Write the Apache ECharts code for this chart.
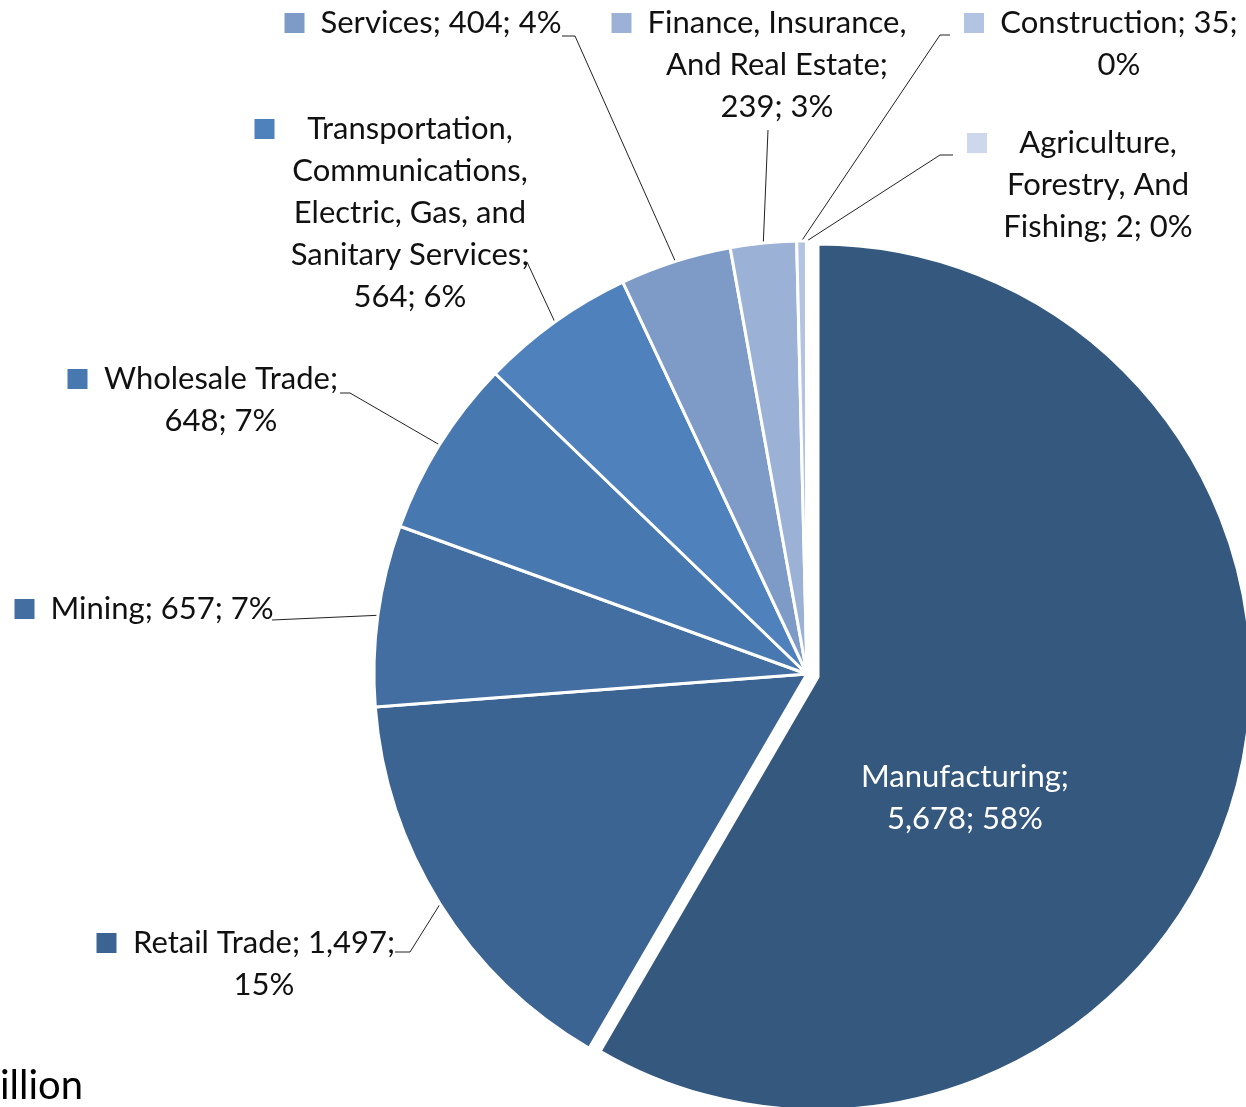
<!DOCTYPE html>
<html style="height: 100%">
<head>
  <meta charset="utf-8">
</head>
<body style="height: 100%; margin: 0; background: #fff">
<div id="container" style="height: 1107px; width: 1246px;"></div>
<script src="https://cdn.jsdelivr.net/npm/echarts@6/dist/echarts.min.js"></script>
<script>

// industries, clockwise from 12 o'clock
var industries = [
  'Manufacturing',
  'Retail Trade',
  'Mining',
  'Wholesale Trade',
  'Transportation, Communications, Electric, Gas, and Sanitary Services',
  'Services',
  'Finance, Insurance, And Real Estate',
  'Construction',
  'Agriculture, Forestry, And Fishing'
];
var values = [5678, 1497, 657, 648, 564, 404, 239, 35, 2];
var colors = ['#35587f', '#3c6493', '#436ea1', '#4878b0', '#4f81bd', '#7e9bc7', '#9cb1d6', '#b3c3e2', '#cdd8ec'];

// how many words go on each line of the label
var wordsPerLine = [[1, 2], [3, 1], [3], [2, 2], [1, 1, 3, 2, 2], [3], [2, 3, 2], [2, 1], [1, 2, 3]];

// label placement: centre of text block, first line y, and line elbow points
var labelSpots = [
  {cx: 965, cy: 798},
  {cx: 264, cy: 943, p1: [410, 952], p2: [395, 952]},
  {cx: 162, cy: 609, p1: [272, 620], p2: [272, 620]},
  {cx: 221, cy: 379, p1: [350, 393], p2: [340, 393]},
  {cx: 410, cy: 129, p1: [527, 262], p2: [527, 262]},
  {cx: 441, cy: 23, p1: [575, 36], p2: [562, 36]},
  {cx: 777, cy: 23, p1: [768, 130], p2: [768, 130]},
  {cx: 1119, cy: 23, p1: [940, 35], p2: [950, 35]},
  {cx: 1098, cy: 143, p1: [940, 155], p2: [953, 155]}
];

var FONT = 'Lato';
var FS = 31;
var LH = 42;
var TEXT = '#111';
var SQ = 20, GAP = 15;
var CENTER = [807, 674];
var EXPLODED = [818, 677];   // Manufacturing slice pulled out a little
var R = 433;

// percentages rounded so they add up to 100 (largest remainder)
function percentSeats(vals) {
  var sum = vals.reduce(function (a, b) { return a + b; }, 0);
  var raw = vals.map(function (v) { return v / sum * 100; });
  var seats = raw.map(Math.floor);
  var left = 100 - seats.reduce(function (a, b) { return a + b; }, 0);
  var order = raw.map(function (r, i) { return [r - Math.floor(r), i]; })
    .sort(function (a, b) { return b[0] - a[0]; });
  for (var k = 0; k < left; k++) seats[order[k][1]]++;
  return seats;
}
var pcts = percentSeats(values);

var ctx = document.createElement('canvas').getContext('2d');
ctx.font = FS + 'px ' + FONT;

var blockW = [];
var labelLines = industries.map(function (name, i) {
  var words = (name + '; ' + values[i].toLocaleString('en-US') + '; ' + pcts[i] + '%').split(' ');
  var lines = [], k = 0;
  wordsPerLine[i].forEach(function (n) {
    lines.push(words.slice(k, k + n).join(' '));
    k += n;
  });
  blockW[i] = Math.ceil(Math.max.apply(null, lines.map(function (l) { return ctx.measureText(l).width; }))) + 2;
  return lines;
});

var hidden = {color: 'transparent', borderWidth: 0};

// main pie: every slice except Manufacturing
var mainData = industries.map(function (name, i) {
  if (i === 0) {
    return {name: name, value: values[i], itemStyle: hidden, label: {show: false}, labelLine: {show: false}};
  }
  var w = blockW[i];
  var text = labelLines[i].map(function (l, j) {
    return (j === 0 ? '{sq|}{gap|}' : '{pad|}') + '{t|' + l + '}';
  }).join('\n');
  return {
    name: name, value: values[i],
    itemStyle: {color: colors[i]},
    label: {
      formatter: text,
      rich: {
        sq: {width: SQ, height: SQ, backgroundColor: colors[i], align: 'left', lineHeight: LH},
        gap: {width: GAP, align: 'left', lineHeight: LH},
        pad: {width: SQ + GAP, align: 'left', lineHeight: LH},
        t: {width: w, align: 'center', fontFamily: FONT, fontSize: FS, color: TEXT, lineHeight: LH}
      }
    }
  };
});

// exploded pie: only Manufacturing is drawn
var explodedData = industries.map(function (name, i) {
  if (i !== 0) {
    return {name: name, value: values[i], itemStyle: hidden, label: {show: false}, labelLine: {show: false}};
  }
  return {
    name: name, value: values[i],
    itemStyle: {color: colors[i]},
    label: {show: true, position: 'inside', color: '#fff', align: 'center', formatter: labelLines[i].join('\n')},
    labelLine: {show: false}
  };
});

var myChart = echarts.init(document.getElementById('container'));

var option = {
  animation: false,
  backgroundColor: '#fff',
  graphic: [{
    type: 'text', x: 0, y: 1106,
    style: {text: 'illion', font: '40px Lato', fill: '#000', verticalAlign: 'bottom'}
  }],
  series: [{
    type: 'pie',
    center: CENTER,
    radius: R,
    startAngle: 90,
    clockwise: true,
    avoidLabelOverlap: false,
    itemStyle: {borderColor: '#fff', borderWidth: 3},
    emphasis: {disabled: true},
    label: {
      show: true, position: 'outside',
      fontFamily: FONT, fontSize: FS, color: TEXT, lineHeight: LH
    },
    labelLine: {show: true, length: 10, length2: 10, lineStyle: {color: '#222', width: 1}},
    labelLayout: function (params) {
      var i = params.dataIndex;
      var s = labelSpots[i];
      var out = {
        x: s.cx - blockW[i] / 2 - SQ - GAP,
        y: s.cy - LH / 2,
        align: 'left',
        verticalAlign: 'top'
      };
      var pts = params.labelLinePoints;
      if (pts) out.labelLinePoints = [pts[0], s.p1, s.p2];
      return out;
    },
    data: mainData
  }, {
    type: 'pie',
    center: EXPLODED,
    radius: R,
    startAngle: 90,
    clockwise: true,
    avoidLabelOverlap: false,
    itemStyle: {borderColor: '#fff', borderWidth: 3},
    emphasis: {disabled: true},
    label: {fontFamily: FONT, fontSize: FS, lineHeight: LH},
    labelLayout: function (params) {
      var s = labelSpots[params.dataIndex];
      return {x: s.cx, y: s.cy, align: 'center', verticalAlign: 'middle'};
    },
    data: explodedData
  }]
};

myChart.setOption(option);
</script>
</body>
</html>
